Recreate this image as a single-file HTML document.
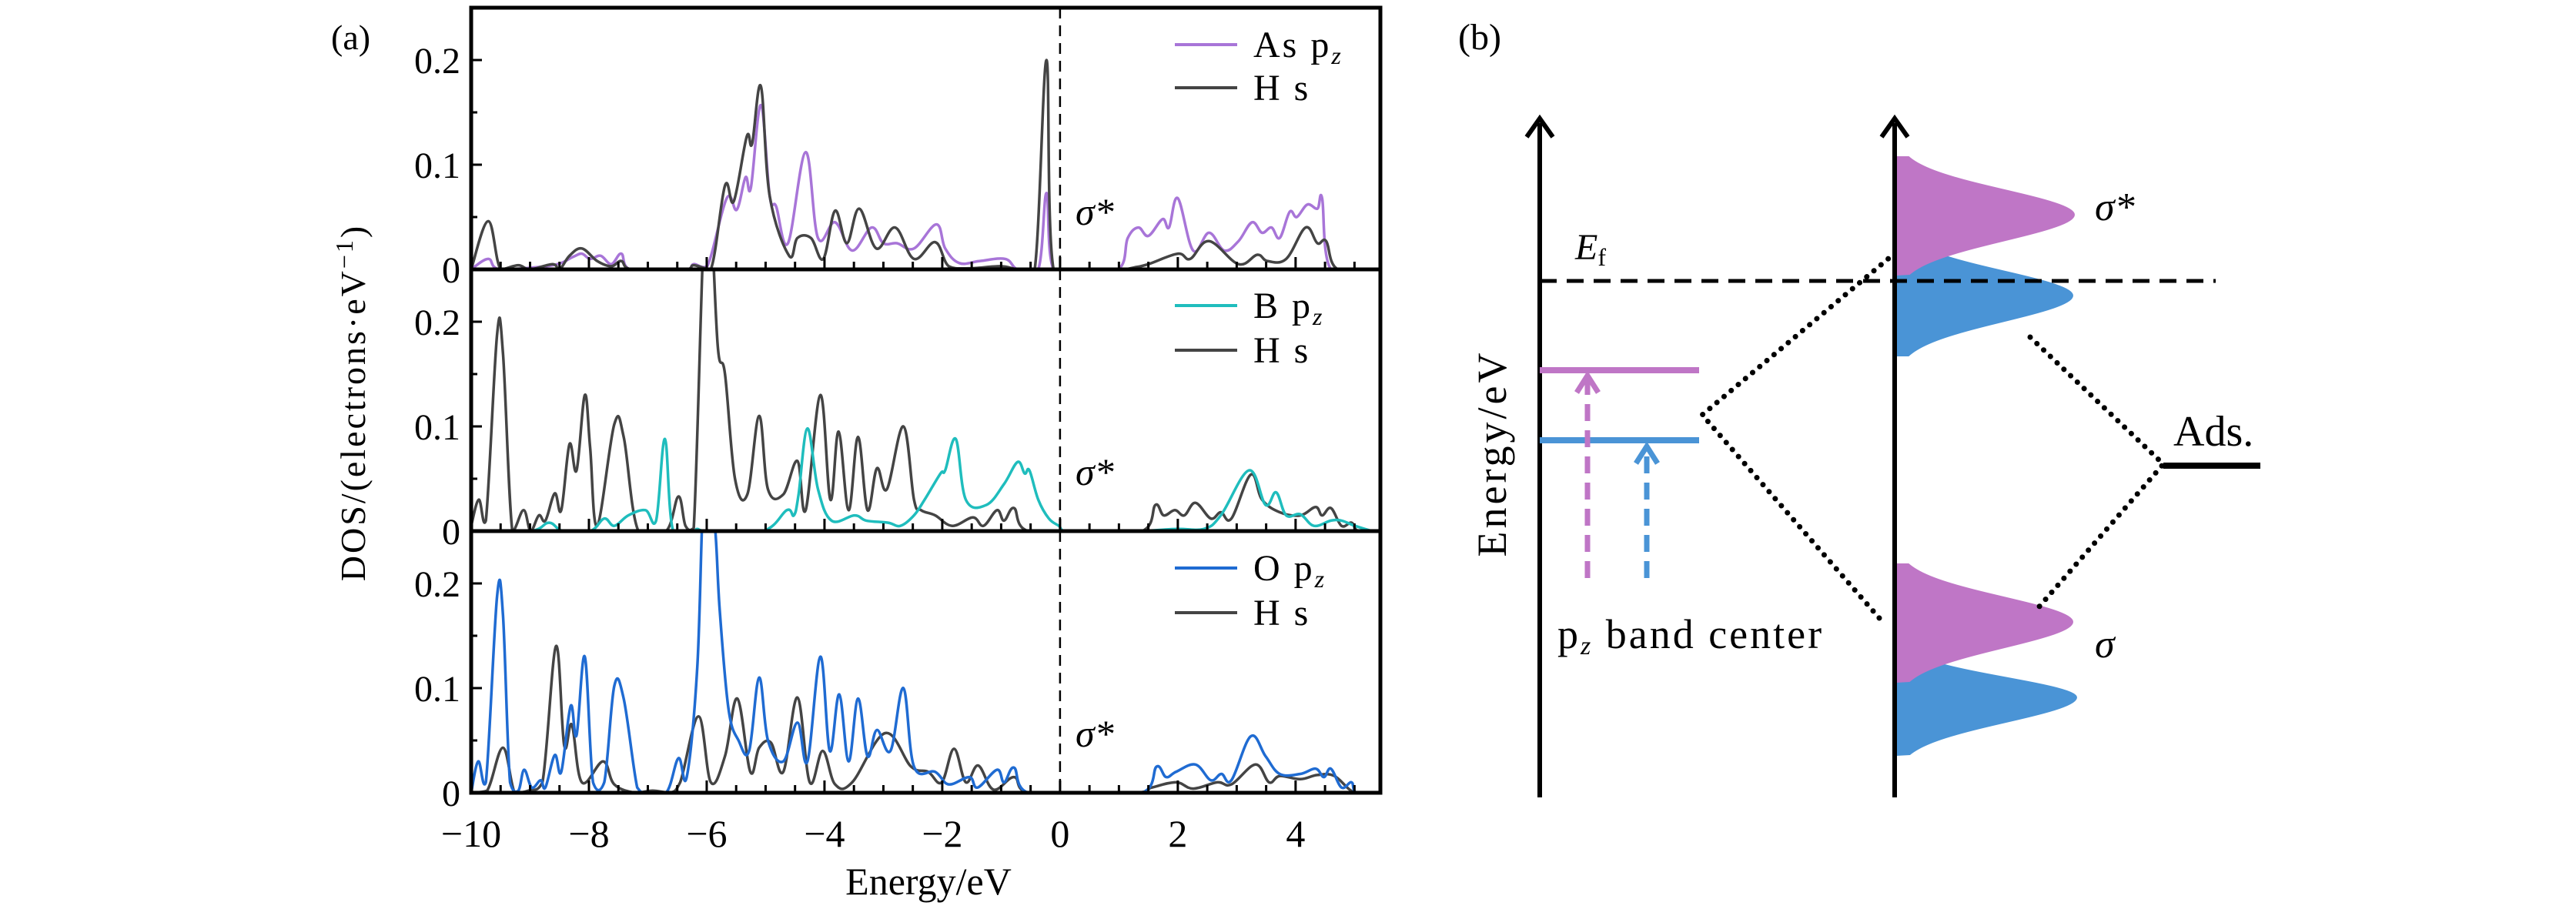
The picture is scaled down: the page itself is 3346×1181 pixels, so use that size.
<!DOCTYPE html>
<html><head><meta charset="utf-8"><style>
html,body{margin:0;padding:0;background:#fff;}
svg{display:block;font-family:"Liberation Serif",serif;}
</style></head><body>
<svg id="fig" width="3346" height="1181" viewBox="0 0 3346 1181" xmlns="http://www.w3.org/2000/svg">
<defs>
<clipPath id="c0"><rect x="612" y="10" width="1181" height="340"/></clipPath>
<clipPath id="c1"><rect x="612" y="350" width="1181" height="340"/></clipPath>
<clipPath id="c2"><rect x="612" y="690" width="1181" height="340"/></clipPath>
</defs>
<g id="panelA"></g>
<text x="430" y="64" font-size="46">(a)</text>
<text transform="translate(474,523) rotate(-90)" text-anchor="middle" font-size="46" letter-spacing="3">DOS/(electrons·eV<tspan dy="-16" font-size="32">−1</tspan><tspan dy="16">)</tspan></text>
<text x="1206" y="1162" text-anchor="middle" font-size="50">Energy/eV</text>

<g id="panelB">
<text x="1894" y="64" font-size="48">(b)</text>
<path id="gaussians"/>
<line x1="2000" y1="365" x2="2878" y2="365" stroke="#000" stroke-width="5" stroke-dasharray="22,13"/>
<text x="2046" y="337" font-size="48" font-style="italic">E<tspan font-size="32" font-style="normal" dy="8">f</tspan></text>
<line x1="2000" y1="1036" x2="2000" y2="160" stroke="#000" stroke-width="6"/>
<polyline points="1983,178 2000,154 2017,178" fill="none" stroke="#000" stroke-width="6"/>
<line x1="2461" y1="1036" x2="2461" y2="160" stroke="#000" stroke-width="6"/>
<polyline points="2444,178 2461,154 2478,178" fill="none" stroke="#000" stroke-width="6"/>
<text transform="translate(1956,589) rotate(-90)" text-anchor="middle" font-size="54" letter-spacing="4">Energy/eV</text>
<line x1="2000" y1="481" x2="2207" y2="481" stroke="#bf76c6" stroke-width="8"/>
<line x1="2000" y1="572" x2="2207" y2="572" stroke="#4a94d6" stroke-width="8"/>
<line x1="2062" y1="751" x2="2062" y2="490" stroke="#bf76c6" stroke-width="7" stroke-dasharray="22,12"/>
<polyline points="2048,510 2062,488 2076,510" fill="none" stroke="#bf76c6" stroke-width="7"/>
<line x1="2139" y1="751" x2="2139" y2="582" stroke="#4a94d6" stroke-width="7" stroke-dasharray="22,12"/>
<polyline points="2125,602 2139,580 2153,602" fill="none" stroke="#4a94d6" stroke-width="7"/>
<text x="2023" y="842" font-size="54" letter-spacing="3">p<tspan font-size="34" font-style="italic" dy="8">z</tspan><tspan dy="-8"> band center</tspan></text>
<polyline points="2441,803 2211,539 2460,330" fill="none" stroke="#000" stroke-width="7" stroke-dasharray="0.1,12" stroke-linecap="round"/>
<polyline points="2637,438 2810,603 2648,789" fill="none" stroke="#000" stroke-width="7" stroke-dasharray="0.1,12" stroke-linecap="round"/>
<line x1="2810" y1="605" x2="2936" y2="605" stroke="#000" stroke-width="8"/>
<text x="2823" y="579" font-size="56">Ads.</text>
<text x="2721" y="286" font-size="52" font-style="italic">σ*</text>
<text x="2721" y="854" font-size="52" font-style="italic">σ</text>
</g>
</svg>
<script>
// ---- Data (Energy eV, DOS) ----
const asPzTop = [[-10,0],[-9.71,0.01],[-9.5,0],[-8.62,0.004],[-8.27,0.012],[-8.12,0.015],[-7.98,0.01],[-7.8,0.013],[-7.62,0.005],[-7.45,0.015],[-7.3,0],[-6.34,0],[-6.22,0.005],[-5.99,0.003],[-5.66,0.068],[-5.49,0.057],[-5.34,0.088],[-5.25,0.078],[-5.08,0.157],[-4.93,0.07],[-4.82,0.06],[-4.62,0.025],[-4.32,0.112],[-4.11,0.03],[-3.82,0.045],[-3.53,0.018],[-3.2,0.04],[-3.0,0.025],[-2.77,0.025],[-2.48,0.02],[-2.1,0.043],[-1.95,0.02],[-1.71,0.006],[-1.36,0.008],[-0.93,0.01],[-0.72,0],[-0.37,0],[-0.23,0.073],[-0.11,0],[0.98,0],[1.15,0.03],[1.33,0.04],[1.5,0.032],[1.74,0.048],[1.85,0.04],[2.0,0.068],[2.26,0.018],[2.53,0.035],[2.79,0.018],[3.03,0.027],[3.26,0.045],[3.43,0.035],[3.59,0.04],[3.73,0.03],[3.9,0.055],[4.02,0.05],[4.2,0.062],[4.37,0.058],[4.45,0.068],[4.6,0],[5.45,0]];
const hsTop = [[-10,0],[-9.71,0.046],[-9.5,0],[-9.2,0.004],[-9.0,0],[-8.62,0.005],[-8.5,0],[-8.33,0.013],[-8.12,0.02],[-7.86,0.008],[-7.62,0.003],[-7.45,0.008],[-7.27,0],[-6.34,0],[-6.22,0.004],[-5.93,0],[-5.69,0.08],[-5.54,0.065],[-5.32,0.127],[-5.23,0.12],[-5.08,0.175],[-4.93,0.07],[-4.6,0.013],[-4.46,0.03],[-4.23,0.03],[-4.02,0.01],[-3.82,0.056],[-3.62,0.025],[-3.41,0.058],[-3.12,0.02],[-2.8,0.04],[-2.48,0.01],[-2.12,0.026],[-1.89,0.003],[-1.54,0.001],[-1.01,0.003],[-0.72,0],[-0.43,0],[-0.23,0.2],[-0.11,0],[0.98,0],[1.27,0.002],[1.5,0.005],[2.0,0.015],[2.21,0.01],[2.53,0.027],[3.03,0.005],[3.35,0.014],[3.52,0.008],[3.84,0.01],[4.17,0.04],[4.37,0.025],[4.52,0.027],[4.72,0],[5.45,0]];
const bPzMid = [[-10,0],[-9.0,0],[-8.68,0.008],[-8.44,0],[-7.98,0],[-7.74,0.012],[-7.57,0.005],[-7.33,0.015],[-7.04,0.02],[-6.86,0.01],[-6.71,0.088],[-6.57,0],[-6.22,0],[-6.16,0.002],[-5.99,0],[-5.05,0],[-4.64,0.02],[-4.52,0.015],[-4.44,0.035],[-4.29,0.098],[-4.11,0.04],[-3.88,0.01],[-3.49,0.015],[-3.29,0.01],[-2.92,0.008],[-2.71,0.005],[-2.48,0.015],[-2.3,0.03],[-2.03,0.055],[-1.95,0.058],[-1.77,0.088],[-1.6,0.03],[-1.25,0.025],[-0.95,0.045],[-0.72,0.066],[-0.6,0.055],[-0.52,0.058],[-0.37,0.03],[-0.19,0.012],[-0.02,0.005],[0.1,0],[1.27,0],[1.97,0.002],[2.44,0.002],[2.73,0.015],[3.21,0.058],[3.49,0.025],[3.67,0.037],[3.84,0.015],[4.08,0.016],[4.31,0.005],[4.6,0.01],[4.78,0.01],[5.01,0.005],[5.31,0],[5.45,0]];
const hsMid = [[-10,0.005],[-9.87,0.03],[-9.75,0.01],[-9.56,0.188],[-9.46,0.17],[-9.3,0],[-9.11,0.02],[-8.99,0],[-8.85,0.015],[-8.74,0.01],[-8.58,0.036],[-8.47,0.02],[-8.33,0.083],[-8.21,0.058],[-8.07,0.13],[-7.98,0.08],[-7.86,0.005],[-7.57,0.102],[-7.41,0.09],[-7.16,0],[-6.69,0],[-6.48,0.033],[-6.36,0.005],[-6.22,0.003],[-6.04,0.3],[-5.93,0.3],[-5.81,0.175],[-5.69,0.15],[-5.52,0.05],[-5.31,0.035],[-5.11,0.11],[-4.96,0.04],[-4.7,0.035],[-4.46,0.067],[-4.32,0.02],[-4.07,0.13],[-3.9,0.03],[-3.76,0.095],[-3.59,0.02],[-3.43,0.09],[-3.27,0.02],[-3.11,0.06],[-2.94,0.04],[-2.66,0.1],[-2.48,0.03],[-2.36,0.02],[-2.12,0.015],[-1.83,0.005],[-1.48,0.013],[-1.3,0.005],[-1.07,0.02],[-0.95,0.01],[-0.78,0.022],[-0.54,0],[1.39,0],[1.62,0.025],[1.76,0.015],[1.95,0.02],[2.11,0.015],[2.3,0.027],[2.56,0.012],[2.73,0.018],[2.91,0.012],[3.24,0.054],[3.43,0.03],[3.73,0.018],[4.08,0.015],[4.34,0.023],[4.45,0.015],[4.6,0.022],[4.78,0.005],[4.95,0.008],[5.07,0],[5.45,0]];
const oPzBot = [[-10,0],[-9.88,0.03],[-9.75,0.01],[-9.56,0.188],[-9.46,0.17],[-9.34,0.01],[-9.2,0.002],[-9.1,0.022],[-8.97,0.005],[-8.82,0.012],[-8.74,0.005],[-8.58,0.036],[-8.47,0.02],[-8.31,0.083],[-8.21,0.055],[-8.07,0.13],[-7.93,0.01],[-7.74,0.01],[-7.57,0.102],[-7.41,0.09],[-7.18,0.005],[-7.04,0],[-6.69,0],[-6.48,0.033],[-6.34,0.015],[-6.16,0.12],[-6.04,0.3],[-5.87,0.26],[-5.78,0.175],[-5.63,0.08],[-5.46,0.05],[-5.28,0.04],[-5.11,0.11],[-4.96,0.05],[-4.7,0.03],[-4.46,0.067],[-4.29,0.03],[-4.07,0.13],[-3.91,0.04],[-3.75,0.094],[-3.59,0.03],[-3.43,0.09],[-3.27,0.035],[-3.11,0.06],[-2.88,0.04],[-2.66,0.1],[-2.48,0.025],[-2.12,0.02],[-1.89,0.008],[-1.54,0.015],[-1.4,0.005],[-1.07,0.022],[-0.95,0.01],[-0.78,0.024],[-0.54,0],[1.39,0],[1.64,0.025],[1.8,0.015],[1.97,0.02],[2.3,0.027],[2.56,0.012],[2.74,0.018],[2.91,0.012],[3.24,0.054],[3.49,0.035],[3.73,0.018],[4.08,0.018],[4.34,0.023],[4.48,0.015],[4.6,0.023],[4.78,0.005],[4.95,0.01],[5.04,0],[5.45,0]];
const hsBot = [[-10,0],[-9.73,0.002],[-9.46,0.043],[-9.26,0],[-9.03,0.002],[-8.79,0.01],[-8.56,0.14],[-8.42,0.045],[-8.29,0.065],[-8.12,0.01],[-7.76,0.03],[-7.57,0.008],[-7.21,0],[-6.92,0.002],[-6.63,0],[-6.45,0.01],[-6.14,0.073],[-5.93,0.01],[-5.69,0.035],[-5.48,0.09],[-5.26,0.02],[-5.11,0.043],[-4.91,0.048],[-4.7,0.02],[-4.46,0.091],[-4.25,0.01],[-4.03,0.04],[-3.82,0.008],[-3.53,0.01],[-2.97,0.057],[-2.53,0.025],[-2.24,0.02],[-2.01,0.01],[-1.8,0.042],[-1.6,0.01],[-1.39,0.026],[-1.13,0.003],[-0.78,0.015],[-0.54,0],[1.27,0],[1.56,0.005],[1.97,0.01],[2.26,0.004],[2.67,0.01],[2.91,0.008],[3.32,0.027],[3.55,0.01],[3.73,0.016],[4.08,0.013],[4.37,0.017],[4.66,0.016],[5.01,0],[5.45,0]];
const yTicks = [0, 0.1, 0.2];
const yTickLabels = ["0", "0.1", "0.2"];
const xTicks = [-10, -8, -6, -4, -2, 0, 2, 4];
const xTickLabels = ["\u221210", "\u22128", "\u22126", "\u22124", "\u22122", "0", "2", "4"];
const legendNames = [["As p", "H s"], ["B p", "H s"], ["O p", "H s"]];

// ---- Layout ----
const NS = "http://www.w3.org/2000/svg";
const X0 = 612, X1 = 1793, EMIN = -10, EMAX = 5.44;
const PT = [10, 350, 690], PH = 340, YMAX = 0.25;
const xs = e => X0 + (e - EMIN) / (EMAX - EMIN) * (X1 - X0);
const ys = (p, v) => PT[p] + PH - v / YMAX * PH;
const g = document.getElementById('panelA');
function mk(tag, attrs) { const el = document.createElementNS(NS, tag); for (const k in attrs) el.setAttribute(k, attrs[k]); return el; }
function smoothPath(pts, base) {
  let d = 'M' + pts[0][0].toFixed(1) + ',' + pts[0][1].toFixed(1);
  for (let i = 0; i < pts.length - 1; i++) {
    const p0 = pts[Math.max(0, i - 1)], p1 = pts[i], p2 = pts[i + 1], p3 = pts[Math.min(pts.length - 1, i + 2)];
    const t = 0.18;
    let c1x = p1[0] + (p2[0] - p0[0]) * t, c1y = p1[1] + (p2[1] - p0[1]) * t;
    let c2x = p2[0] - (p3[0] - p1[0]) * t, c2y = p2[1] - (p3[1] - p1[1]) * t;
    c1x = Math.min(Math.max(c1x, p1[0]), p2[0]); c2x = Math.min(Math.max(c2x, p1[0]), p2[0]);
    c1y = Math.min(c1y, base); c2y = Math.min(c2y, base);
    d += ' C' + c1x.toFixed(1) + ',' + c1y.toFixed(1) + ' ' + c2x.toFixed(1) + ',' + c2y.toFixed(1) + ' ' + p2[0].toFixed(1) + ',' + p2[1].toFixed(1);
  }
  return d;
}

const panels = [
  { series: [[asPzTop, '#a875d8'], [hsTop, '#444']], colors: ['#a875d8', '#444'] },
  { series: [[bPzMid, '#1fbdbd'], [hsMid, '#444']], colors: ['#1fbdbd', '#444'] },
  { series: [[oPzBot, '#1f6bd2'], [hsBot, '#444']], colors: ['#1f6bd2', '#444'] }
];
const order = [[0, 1], [1, 0], [1, 0]];
panels.forEach((P, p) => {
  const pg = mk('g', { 'clip-path': 'url(#c' + p + ')' });
  
  
  order[p].forEach(si => {
    const [data, col] = P.series[si];
    const pts = data.map(d => [xs(d[0]), ys(p, d[1])]);
    const pl = mk('path', { d: smoothPath(pts, ys(p, 0)), fill: 'none', stroke: col, 'stroke-width': 3.5, 'stroke-linejoin': 'round' });
    
    
    pg.appendChild(pl);
  });
  g.appendChild(pg);
  yTicks.forEach((t, i) => {
    const y = ys(p, t);
    const tk = mk('line', { x1: X0, x2: X0 + 14, y1: y, y2: y, stroke: '#000', 'stroke-width': 3 });
    
    
    g.appendChild(tk);
    const lb = mk('text', { x: X0 - 14, y: y + 17, 'text-anchor': 'end', 'font-size': 48 });
    lb.textContent = yTickLabels[i];
    
    
    g.appendChild(lb);
  });
  [0.05, 0.15].forEach(t => {
    const y = ys(p, t);
    const tk = mk('line', { x1: X0, x2: X0 + 8, y1: y, y2: y, stroke: '#000', 'stroke-width': 3 });
    
    
    g.appendChild(tk);
  });
  for (let e = -9.5; e < EMAX; e += 0.5) {
    const x = xs(e), yb = PT[p] + PH;
    const major = Math.abs(e - Math.round(e)) < 1e-6 && Math.round(e) % 2 === 0;
    const tk = mk('line', { x1: x, x2: x, y1: yb, y2: yb - (major ? 16 : 10), stroke: '#000', 'stroke-width': 3 });
    
    
    g.appendChild(tk);
  }
  const fl = mk('line', { x1: xs(0), x2: xs(0), y1: PT[p], y2: PT[p] + PH, stroke: '#000', 'stroke-width': 2.5, 'stroke-dasharray': '14,9' });
  
  
  g.appendChild(fl);
  const sl = mk('text', { x: 1397, y: [292, 630, 970][p], 'font-size': 50, 'font-style': 'italic' });
  sl.textContent = 'σ*';
  
  
  g.appendChild(sl);
  const ly = [[58, 114], [397, 455], [738, 796]][p];
  [0, 1].forEach(k => {
    const ln = mk('line', { x1: 1526, x2: 1607, y1: ly[k], y2: ly[k], stroke: P.colors[k], 'stroke-width': 4 });
    
    
    g.appendChild(ln);
    const tx = mk('text', { x: 1628, y: ly[k] + 16, 'font-size': 48, 'letter-spacing': 3 });
    tx.textContent = legendNames[p][k];
    if (k === 0) { const ts = mk('tspan', { dy: 9, 'font-size': 32, 'font-style': 'italic' }); ts.textContent = 'z'; tx.appendChild(ts); }
    
    
    g.appendChild(tx);
  });
});
const fr = mk('rect', { x: X0, y: PT[0], width: X1 - X0, height: PH * 3, fill: 'none', stroke: '#000', 'stroke-width': 5 });


g.appendChild(fr);
[1, 2].forEach(i => {
  const s = mk('line', { x1: X0, x2: X1, y1: PT[i], y2: PT[i], stroke: '#000', 'stroke-width': 5 });
  
  
  g.appendChild(s);
});
xTicks.forEach((t, i) => {
  const lb = mk('text', { x: xs(t), y: 1100, 'text-anchor': 'middle', 'font-size': 50 });
  lb.textContent = xTickLabels[i];
  
  
  g.appendChild(lb);
});

// ---- Panel b gaussian band shapes ----
const bands = [
  { top: 309, peak: 384, bot: 463, w: 230, col: '#4a94d6' },
  { top: 203, peak: 279, bot: 358, w: 232, col: '#bf76c6' },
  { top: 845, peak: 906, bot: 982, w: 235, col: '#4a94d6' },
  { top: 732, peak: 808, bot: 887, w: 230, col: '#bf76c6' }
];
const gb = document.getElementById('gaussians');
const pb = gb.parentNode;
bands.forEach(b => {
  const ax = 2463;
  let d = 'M' + ax + ',' + b.top;
  for (let y = b.top; y <= b.bot; y += 2) {
    const s = y < b.peak ? (b.peak - b.top) / 2.3 : (b.bot - b.peak) / 2.3;
    const x = ax + b.w * Math.exp(-Math.pow((y - b.peak) / s, 2) / 2);
    d += ' L' + x.toFixed(1) + ',' + y;
  }
  d += ' L' + ax + ',' + b.bot + ' Z';
  const p = mk('path', { d: d, fill: b.col });
  
  
  pb.insertBefore(p, gb);
});
</script>
</body></html>
